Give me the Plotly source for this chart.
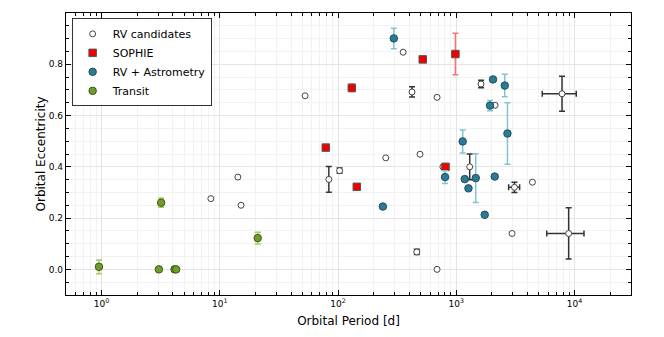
import numpy as np
import plotly.graph_objects as go

# RV candidates (open circles)
rv_period = [8.4, 14.2, 15.1, 52.6, 83.5, 103, 253, 355, 422, 463, 493, 687, 687,
             770, 1298, 1618, 2125, 2960, 3100, 4400, 7830, 8910]
rv_ecc = [0.276, 0.36, 0.25, 0.677, 0.351, 0.385, 0.435, 0.847, 0.692, 0.068, 0.449,
          0.671, 0.0, 0.40, 0.40, 0.723, 0.64, 0.14, 0.32, 0.34, 0.685, 0.14]
rv_ecc_err = [0, 0, 0, 0, 0.05, 0.01, 0, 0, 0.02, 0.01, 0, 0, 0,
              0, 0.05, 0.015, 0, 0, 0.02, 0, 0.068, 0.1]
rv_period_err = [0, 0, 0, 0, 0, 0, 0, 0, 0, 0, 0, 0, 0,
                 0, 0, 0, 0, 0, 330, 0, 2500, 3100]

# SOPHIE (red squares)
sophie_period = [78.7, 130.6, 144, 520, 810, 982]
sophie_ecc = [0.475, 0.708, 0.322, 0.819, 0.40, 0.84]
sophie_ecc_err = [0, 0.015, 0, 0, 0.01, 0.081]

# RV + Astrometry (teal)
ast_period = [239, 296, 803, 1132, 1178, 1266, 1459, 1738, 1928, 2043, 2112, 2567, 2705]
ast_ecc = [0.245, 0.901, 0.36, 0.499, 0.352, 0.316, 0.356, 0.213, 0.639, 0.741, 0.362, 0.717, 0.53]
ast_ecc_err = [0, 0.04, 0.025, 0.045, 0, 0, 0.095, 0, 0.02, 0, 0, 0.044, 0.12]

# Transit (green)
tr_period = [0.95, 3.05, 3.19, 4.14, 4.27, 20.9]
tr_ecc = [0.01, 0, 0.26, 0, 0, 0.122]
tr_ecc_err = [0.027, 0, 0.018, 0, 0, 0.023]

FONT = "DejaVu Sans"
fig = go.Figure()


def add_group(name, px, ey, ey_err, marker, err_color, ex_err=None):
    px = np.array(px, float)
    ey = np.array(ey, float)
    ey_err = np.array(ey_err, float)
    ex_err = np.zeros_like(px) if ex_err is None else np.array(ex_err, float)
    has_err = (ey_err > 0) | (ex_err > 0)
    # points with error bars get their own trace, plain points carry the legend entry
    if has_err.any():
        fig.add_trace(go.Scatter(
            x=px[has_err], y=ey[has_err], mode='markers', marker=marker,
            error_y=dict(type='data', array=ey_err[has_err], color=err_color,
                         thickness=1.5, width=3, visible=True),
            error_x=dict(type='data', array=ex_err[has_err], color=err_color,
                         thickness=1.5, width=3, visible=bool((ex_err > 0).any())),
            name=name, legendgroup=name, showlegend=False))
    fig.add_trace(go.Scatter(
        x=px[~has_err], y=ey[~has_err], mode='markers', marker=marker,
        name=name, legendgroup=name, showlegend=True))


add_group('RV candidates', rv_period, rv_ecc, rv_ecc_err,
          dict(symbol='circle', size=6, color='white', line=dict(color='#444444', width=1)),
          '#333333', rv_period_err)
add_group('SOPHIE', sophie_period, sophie_ecc, sophie_ecc_err,
          dict(symbol='square', size=7.5, color='#ee0000', line=dict(color='#555555', width=1)),
          '#ff7070')
add_group('RV + Astrometry', ast_period, ast_ecc, ast_ecc_err,
          dict(symbol='circle', size=7.5, color='#2c7b92', line=dict(color='#1f4f5e', width=1)),
          '#80c4d2')
add_group('Transit', tr_period, tr_ecc, tr_ecc_err,
          dict(symbol='circle', size=7.5, color='#6f9c2c', line=dict(color='#3e5a14', width=1)),
          '#a8cc60')

minor_x = [m * 10.0 ** d for d in range(-1, 5) for m in range(2, 10)]

fig.update_xaxes(
    type='log', range=[np.log10(0.5), np.log10(30000)],
    tickvals=[1, 10, 100, 1000, 10000],
    ticktext=['10<sup>0</sup>', '10<sup>1</sup>', '10<sup>2</sup>', '10<sup>3</sup>', '10<sup>4</sup>'],
    ticks='inside', ticklen=5, tickcolor='black',
    showline=True, linecolor='black', linewidth=1.2, mirror='ticks',
    showgrid=True, gridcolor='#e4e4e4', gridwidth=1,
    minor=dict(tickvals=minor_x, ticks='inside', ticklen=3, tickcolor='black',
               showgrid=True, gridcolor='#f2f2f2'),
    zeroline=False,
    title=dict(text='Orbital Period [d]', font=dict(size=12, family=FONT), standoff=8),
    tickfont=dict(size=9, family=FONT),
)
fig.update_yaxes(
    range=[-0.1, 1.0], tickvals=[0.0, 0.2, 0.4, 0.6, 0.8],
    ticktext=['0.0', '0.2', '0.4', '0.6', '0.8'],
    ticks='inside', ticklen=5, tickcolor='black',
    showline=True, linecolor='black', linewidth=1.2, mirror='ticks',
    showgrid=True, gridcolor='#e4e4e4', gridwidth=1,
    minor=dict(dtick=0.05, ticks='inside', ticklen=3, tickcolor='black',
               showgrid=True, gridcolor='#f2f2f2'),
    zeroline=False,
    title=dict(text='Orbital Eccentricity', font=dict(size=12, family=FONT), standoff=0),
    tickfont=dict(size=9, family=FONT),
)

fig.update_layout(
    width=664, height=337,
    margin=dict(l=66, r=33, t=13, b=38),
    plot_bgcolor='white', paper_bgcolor='white',
    font=dict(family=FONT, color='black'),
    legend=dict(x=0.01, y=0.981, xanchor='left', yanchor='top',
                bgcolor='white', bordercolor='#333333', borderwidth=1,
                font=dict(size=11, family=FONT), tracegroupgap=0),
    showlegend=True,
)

fig.write_html("out.html", config={'displayModeBar': False},
               post_script="document.body.style.margin='0px';")
